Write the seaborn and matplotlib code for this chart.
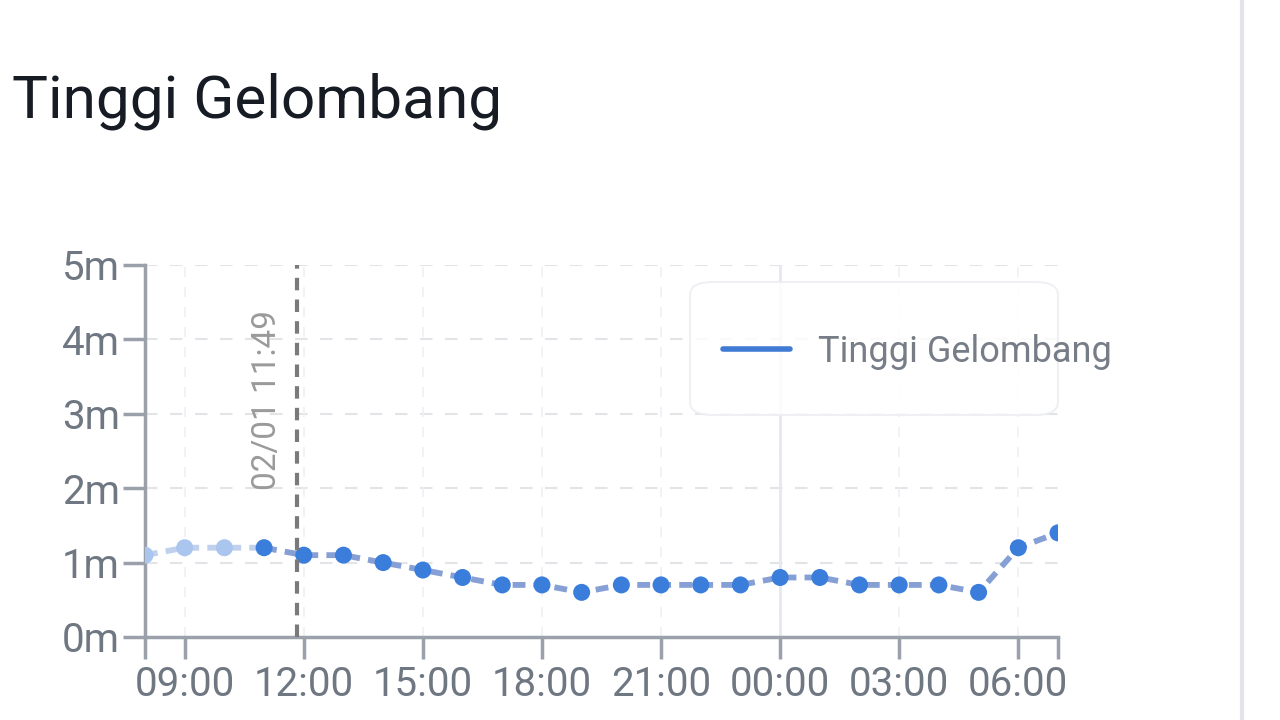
import matplotlib
matplotlib.use("Agg")
import matplotlib.pyplot as plt
import seaborn as sns
import pandas as pd
from matplotlib.patches import FancyBboxPatch
from matplotlib.lines import Line2D

# ---- data ----
hour_labels = ["08:00", "09:00", "10:00", "11:00", "12:00", "13:00", "14:00", "15:00",
               "16:00", "17:00", "18:00", "19:00", "20:00", "21:00", "22:00", "23:00",
               "00:00", "01:00", "02:00", "03:00", "04:00", "05:00", "06:00", "07:00"]
wave_height = [1.1, 1.2, 1.2, 1.2, 1.1, 1.1, 1.0, 0.9,
               0.8, 0.7, 0.7, 0.6, 0.7, 0.7, 0.7, 0.7,
               0.8, 0.8, 0.7, 0.7, 0.7, 0.6, 1.2, 1.4]
tick_labels = ["09:00", "12:00", "15:00", "18:00", "21:00", "00:00", "03:00", "06:00"]
y_ticks = [0, 1, 2, 3, 4, 5]
y_labels = ["0m", "1m", "2m", "3m", "4m", "5m"]
now_label = "02/01 11:49"
now_pos = 3 + 49 / 60  # hours after 08:00
series_name = "Tinggi Gelombang"
n_faded = 3

df = pd.DataFrame({"idx": range(len(hour_labels)), "label": hour_labels, "height": wave_height})
df_past = df.iloc[: n_faded + 1]
df_main = df.iloc[n_faded:]

sns.set_theme(style="white")
plt.rcParams["font.family"] = ["Roboto", "DejaVu Sans"]

fig = plt.figure(figsize=(12.8, 7.2), dpi=100)
ax = fig.add_axes([145 / 1280, 1 - 637 / 720, (1058 - 145) / 1280, (637 - 265) / 720])

line_col = "#86a0d6"
pt_col = "#3b7ddb"

sns.lineplot(data=df_past, x="idx", y="height", ax=ax, color="#b9cced", lw=4.2,
             alpha=0.9, legend=False, zorder=3)
sns.lineplot(data=df_main, x="idx", y="height", ax=ax, color=line_col, lw=4.2,
             legend=False, zorder=3)
for l in ax.lines:
    l.set_dashes([2.2, 1.4])
    l.set_solid_capstyle("butt")
sns.scatterplot(data=df.iloc[:n_faded], x="idx", y="height", ax=ax, color="#aac5ee",
                s=150, edgecolor="none", zorder=4, legend=False)
sns.scatterplot(data=df.iloc[n_faded:], x="idx", y="height", ax=ax, color=pt_col,
                s=150, edgecolor="none", zorder=4, legend=False)

ax.set_xlim(0, len(hour_labels) - 1)
ax.set_ylim(0, 5)
xt = [hour_labels.index(t) for t in tick_labels]
ax.set_xticks([0] + xt + [len(hour_labels) - 1])
ax.set_xticklabels([""] + tick_labels + [""])
ax.set_yticks(y_ticks)
ax.set_yticklabels(y_labels)
ax.set_xlabel("")
ax.set_ylabel("")

tick_col = "#6f7782"
spine_col = "#9aa1ab"
ax.tick_params(axis="both", colors=spine_col, labelcolor=tick_col, labelsize=29,
               width=2.5, length=16, direction="out", bottom=True, left=True)
ax.tick_params(axis="y", pad=2)
ax.tick_params(axis="x", pad=4)
for side in ["top", "right"]:
    ax.spines[side].set_visible(False)
for side in ["left", "bottom"]:
    ax.spines[side].set_color(spine_col)
    ax.spines[side].set_linewidth(2.5)

# grid
for y in y_ticks[1:]:
    ax.axhline(y, color="#e2e4e8", lw=1.5, ls=(0, (6, 6)), zorder=1)
for x in xt:
    ax.axvline(x, color="#eef0f3", lw=1.2, ls=(0, (6, 6)), zorder=1)
ax.axvline(hour_labels.index("00:00"), color="#e6e8ef", lw=2, zorder=1)

# now marker
ax.axvline(now_pos, color="#7a7a7a", lw=3, ls=(0, (3, 2.2)), zorder=5)
ax.text(now_pos - 0.75, 3.19, now_label, rotation=90, ha="center", va="center",
        color="#9a9a9a", fontsize=24)

# legend
box = FancyBboxPatch((690 / 1280, 1 - 415 / 720), (1058 - 690) / 1280, (415 - 282) / 720,
                     boxstyle="round,pad=0,rounding_size=0.018", transform=fig.transFigure,
                     facecolor="white", edgecolor="#eceef1", lw=1.5, alpha=0.85, zorder=10)
fig.patches.append(box)
fig.add_artist(Line2D([723 / 1280, 790 / 1280], [1 - 349 / 720] * 2, color="#3f7bd5", lw=4,
                      transform=fig.transFigure, zorder=11))
fig.text(818 / 1280, 1 - 362 / 720, series_name, ha="left", va="baseline", color="#767d87",
         fontsize=26, zorder=12)

# title
fig.text(12 / 1280, 1 - 118 / 720, series_name, ha="left", va="baseline", color="#161b24",
         fontsize=43.5)

# right card border
fig.add_artist(Line2D([1242 / 1280] * 2, [0, 1], color="#e3e3ec", lw=3, transform=fig.transFigure))

fig.savefig("out.png", dpi=100, facecolor="white")
